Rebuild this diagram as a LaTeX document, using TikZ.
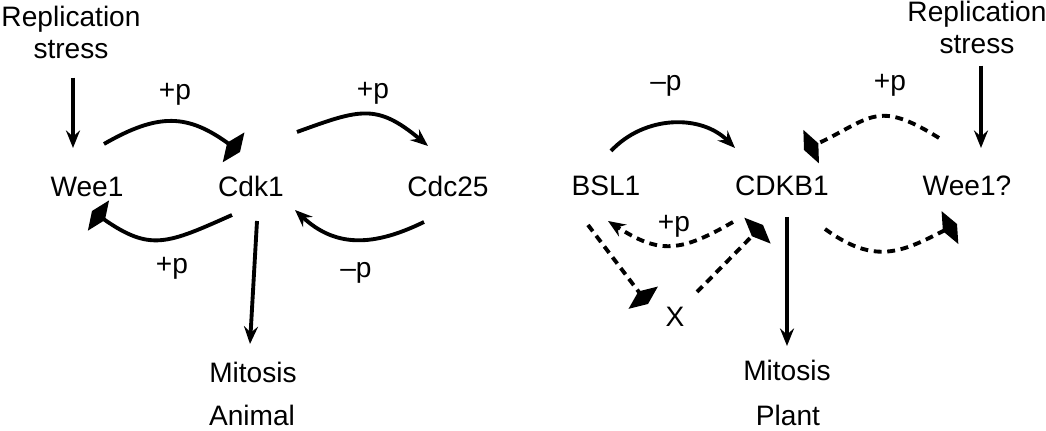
\documentclass[tikz,border=0pt]{standalone}
\usepackage{fontspec}
\setmainfont{Liberation Sans}
\usetikzlibrary{arrows.meta}

\begin{document}
\begin{tikzpicture}[x=0.02cm, y=0.02cm,
% common options for the labels:
lbl/.style = {anchor=base, inner sep=0, font=\fontsize{16}{18.2}\selectfont},
stress/.style = {align=center, inner sep=0, font=\fontsize{16}{18.2}\selectfont},
% common options for the connectors:
act/.style = {line width=2.2pt, -{Stealth[length=10pt,width=8pt,inset=3.5pt]}},
phos/.style = {line width=2.2pt, -{Diamond[length=9pt,width=21pt]}},
guess/.style = {dash pattern=on 4.5pt off 3.2pt}]
\useasboundingbox (0,0) rectangle (1046,431);
% animal
\node[stress] (RSL) at (71,399) {Replication\\stress};
\node[lbl] (Wee1) at (87,234) {Wee1};
\node[lbl] (Cdk1) at (251,234) {Cdk1};
\node[lbl] (Cdc25) at (448,234) {Cdc25};
\node[lbl] (pA) at (175,331) {+p};
\node[lbl] (pB) at (373,332) {+p};
\node[lbl] (pC) at (172,157) {+p};
\node[lbl] (mA) at (356,153) {–p};
\node[lbl] (Mit1) at (253,48) {Mitosis};
\node[lbl] (Animal) at (252,5) {Animal};
\draw[act] ([shift={(2,-19)}]RSL.south) -- ([shift={(-14,49)}]Wee1.base);
\draw[phos] ([shift={(17,53)}]Wee1.base) to[out=30,in=144,looseness=1.2] ([shift={(-11,45)}]Cdk1.base);
\draw[act] ([shift={(46,65)}]Cdk1.base) to[out=20,in=140,looseness=1.3] ([shift={(-20,51)}]Cdc25.base);
\draw[phos] ([shift={(-19,-18)}]Cdk1.base) to[out=204,in=-35,looseness=1.3] ([shift={(5,-14)}]Wee1.base);
\draw[act] ([shift={(-24,-25)}]Cdc25.base) to[out=206,in=-43,looseness=1.1] ([shift={(44,-13)}]Cdk1.base);
\draw[act] ([shift={(6,-24)}]Cdk1.base) -- ([shift={(-3,39)}]Mit1.base);
% plant
\node[stress] (RSR) at (977,404) {Replication\\stress};
\node[lbl] (BSL1) at (606,235) {BSL1};
\node[lbl] (CDKB1) at (782,235) {CDKB1};
\node[lbl] (Wee1q) at (967,235) {Wee1?};
\node[lbl] (X) at (675,104) {X};
\node[lbl] (mB) at (666,340) {–p};
\node[lbl] (pD) at (890,340) {+p};
\node[lbl] (pE) at (674,199) {+p};
\node[lbl] (Mit2) at (787,50) {Mitosis};
\node[lbl] (Plant) at (788,5) {Plant};
\draw[act] ([shift={(4,-12)}]RSR.south) -- ([shift={(14,48)}]Wee1q.base);
\draw[act] ([shift={(5,45)}]BSL1.base) to[out=47,in=135] ([shift={(-47,48)}]CDKB1.base);
\draw[phos,guess] ([shift={(-28,58)}]Wee1q.base) to[out=148,in=25,looseness=1.4] ([shift={(22,46)}]CDKB1.base);
\draw[act,guess] ([shift={(-49,-26)}]CDKB1.base) to[out=210,in=-33,looseness=1.25] ([shift={(2,-25)}]BSL1.base);
\draw[phos,guess] ([shift={(-18,-29)}]BSL1.base) -- ([shift={(-27,23)}]X.base);
\draw[phos,guess] ([shift={(22,35)}]X.base) -- ([shift={(-19,-29)}]CDKB1.base);
\draw[phos,guess] ([shift={(43,-33)}]CDKB1.base) to[out=-36,in=207,looseness=1.2] ([shift={(-10,-28)}]Wee1q.base);
\draw[act] ([shift={(5,-21)}]CDKB1.base) -- ([shift={(0,35)}]Mit2.base);
\end{tikzpicture}
\end{document}
